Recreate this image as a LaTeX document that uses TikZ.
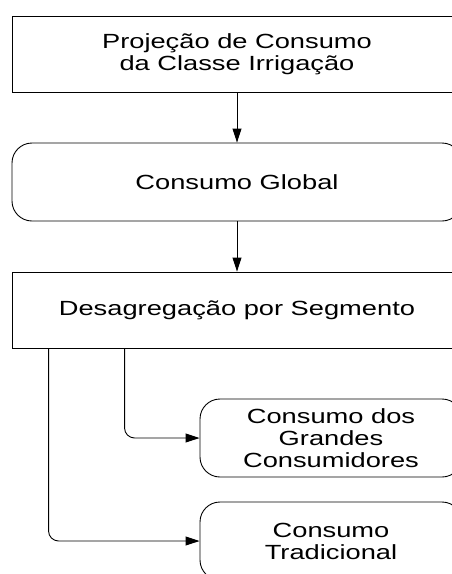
\documentclass[tikz,border=0pt]{standalone}
\usepackage{fontspec}
\newfontfamily\widesans[FakeStretch=1.33]{Liberation Sans}
\usetikzlibrary{arrows.meta}

\begin{document}
\begin{tikzpicture}[x=1pt,y=-1pt,
        box/.style={shape=rectangle,draw=black,line width=0.9pt,minimum height=76pt,
            inner sep=0pt,align=center,font=\widesans\fontsize{20.5}{22}\selectfont},
        roundbox/.style={box,rounded corners=20pt,minimum height=78pt},
        arr/.style={-{Triangle[length=14pt,width=9pt]},line width=0.9pt}]

            	\clip (0,0) rectangle (452,574);

            	\node[box,minimum width=450pt]      (proj)    at (237, 54)  {Projeção de Consumo\\da Classe Irrigação};
            	\node[roundbox,minimum width=450pt] (global)  at (237, 182) {Consumo Global};
            	\node[box,minimum width=450pt]      (desag)   at (237, 310) {Desagregação por Segmento};
            	\node[roundbox,minimum width=262pt] (grandes) at (331, 438) {Consumo dos\\Grandes\\Consumidores};
            	\node[roundbox,minimum width=262pt] (trad)    at (331, 541) {Consumo\\Tradicional};

            	\path[arr] (proj) edge (global);
            	\path[arr] (global) edge (desag);
            	\draw[arr,rounded corners=10pt] ([xshift=113pt]desag.south west) |- (grandes.west);
            	\draw[arr,rounded corners=10pt] ([xshift=37pt]desag.south west) |- (trad.west);
            	\end{tikzpicture}
\end{document}
